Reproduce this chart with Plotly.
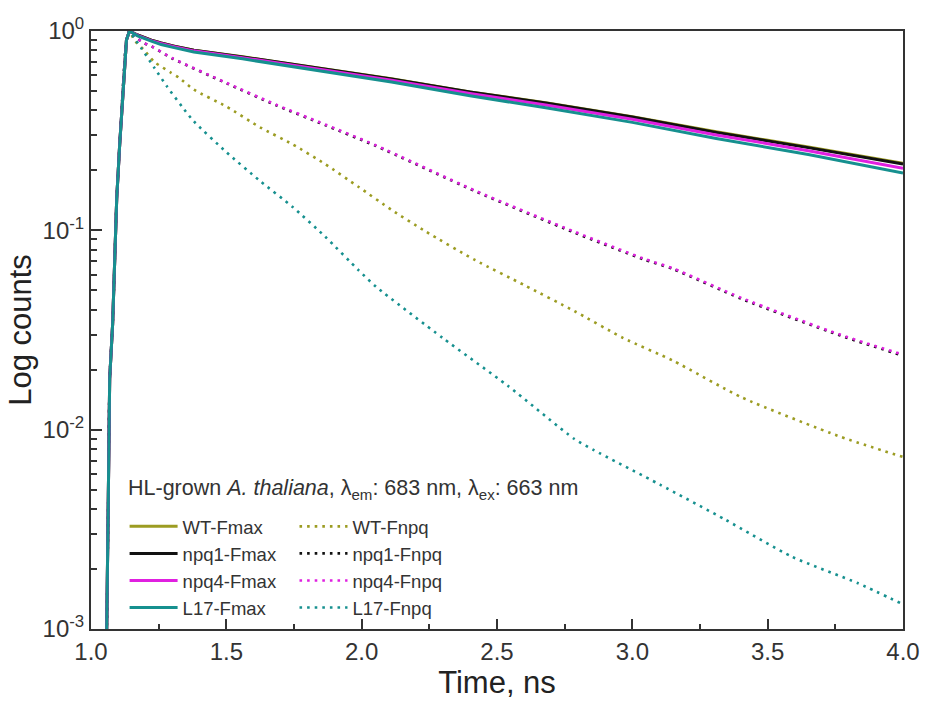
import plotly.graph_objects as go

# ---------------- data ----------------
# shared instrument-limited rise (normalised)
rise_t = [1.055, 1.058, 1.064, 1.069, 1.080, 1.095, 1.106, 1.120, 1.131, 1.142]
rise_v = [0.0008, 0.001, 0.0046, 0.018, 0.034, 0.144, 0.27, 0.57, 0.90, 1.0]

# Fmax decays (solid)
fmax_t = [1.172, 1.223, 1.259, 1.307, 1.38, 1.56, 1.75, 1.93, 2.11, 2.4, 2.68, 3.0, 3.31, 3.65, 4.0]
wt_fmax = [0.955, 0.90, 0.87, 0.84, 0.80, 0.743, 0.68, 0.625, 0.577, 0.495, 0.437, 0.372, 0.312, 0.262, 0.217]
npq1_fmax = [0.955, 0.90, 0.87, 0.84, 0.80, 0.741, 0.68, 0.625, 0.575, 0.495, 0.435, 0.370, 0.310, 0.260, 0.215]
npq4_fmax = [0.95, 0.895, 0.865, 0.835, 0.795, 0.735, 0.673, 0.617, 0.567, 0.486, 0.425, 0.361, 0.301, 0.251, 0.205]
l17_fmax = [0.945, 0.89, 0.855, 0.825, 0.785, 0.725, 0.663, 0.606, 0.555, 0.473, 0.412, 0.348, 0.289, 0.240, 0.194]

# Fnpq decays (dotted)
npq_fnpq_t = [1.16, 1.197, 1.223, 1.299, 1.5, 1.682, 1.865, 2.05, 2.42, 2.785, 3.04, 3.15, 3.405, 3.77, 4.0]
npq4_fnpq = [0.94, 0.87, 0.84, 0.733, 0.55, 0.428, 0.34, 0.268, 0.158, 0.0986, 0.0723, 0.0645, 0.0457, 0.0299, 0.0238]
npq1_fnpq = [0.94, 0.868, 0.838, 0.73, 0.547, 0.425, 0.337, 0.266, 0.157, 0.0975, 0.0716, 0.064, 0.0452, 0.0296, 0.0235]

wt_fnpq_t = [1.16, 1.197, 1.234, 1.296, 1.325, 1.38, 1.5, 1.624, 1.745, 1.865, 1.989, 2.109, 2.237, 2.42,
             2.602, 2.785, 2.967, 3.15, 3.405, 3.77, 4.0]
wt_fnpq = [0.90, 0.80, 0.70, 0.617, 0.583, 0.508, 0.418, 0.329, 0.270, 0.215, 0.165, 0.127, 0.0986, 0.0708,
           0.053, 0.0394, 0.0288, 0.0222, 0.0145, 0.0092, 0.0073]

l17_fnpq_t = [1.16, 1.186, 1.234, 1.281, 1.336, 1.38, 1.5, 1.624, 1.745, 1.865, 1.989, 2.055, 2.30, 2.54,
              2.785, 2.858, 3.102, 3.343, 3.588, 3.832, 4.0]
l17_fnpq = [0.92, 0.82, 0.654, 0.526, 0.418, 0.352, 0.247, 0.177, 0.131, 0.093, 0.063, 0.0519, 0.0288, 0.0166,
            0.0090, 0.0079, 0.00530, 0.00354, 0.00231, 0.0017, 0.00133]

labels_fmax = ["WT-Fmax", "npq1-Fmax", "npq4-Fmax", "L17-Fmax"]
labels_fnpq = ["WT-Fnpq", "npq1-Fnpq", "npq4-Fnpq", "L17-Fnpq"]
colors = ["#9c9c22", "#111111", "#e020e0", "#16908f"]

x_ticks = [1.0, 1.5, 2.0, 2.5, 3.0, 3.5, 4.0]
x_ticktext = ["1.0", "1.5", "2.0", "2.5", "3.0", "3.5", "4.0"]
y_ticks = [0.001, 0.01, 0.1, 1]
y_ticktext = ["10<sup>-3</sup>", "10<sup>-2</sup>", "10<sup>-1</sup>", "10<sup>0</sup>"]

# ---------------- figure ----------------
W, H = 932, 702
L, R, T, B = 91, 19, 31, 69
FONT = "Liberation Sans, Arial, sans-serif"
TXT = "#333333"

fig = go.Figure()

fmax_series = [wt_fmax, npq1_fmax, npq4_fmax, l17_fmax]
fnpq_series = [(wt_fnpq_t, wt_fnpq), (npq_fnpq_t, npq1_fnpq), (npq_fnpq_t, npq4_fnpq), (l17_fnpq_t, l17_fnpq)]

# dotted Fnpq first (under solid)
for name, (tt, vv), c in zip(labels_fnpq, fnpq_series, colors):
    fig.add_trace(go.Scatter(
        x=rise_t + tt, y=rise_v + vv, mode="lines", name=name,
        line=dict(color=c, width=2.6, dash="2.6px,5px", shape="spline", smoothing=0.6),
        legend="legend2"))

for name, vv, c in zip(labels_fmax, fmax_series, colors):
    fig.add_trace(go.Scatter(
        x=rise_t + fmax_t, y=rise_v + vv, mode="lines", name=name,
        line=dict(color=c, width=3),
        legend="legend"))

def px_x(p):
    return (p - L) / (W - L - R)

def px_y(p):
    return (H - B - p) / (H - T - B)

minor_y = [m * 10 ** e for e in (-3, -2, -1) for m in range(2, 10)]

legend_common = dict(
    bgcolor="rgba(0,0,0,0)", font=dict(family=FONT, size=18.5, color=TXT),
    xanchor="left", yanchor="top", tracegroupgap=0, itemwidth=48,
    traceorder="normal")

fig.update_layout(
    width=W, height=H,
    margin=dict(l=L, r=R, t=T, b=B),
    paper_bgcolor="white", plot_bgcolor="white",
    font=dict(family=FONT, color=TXT),
    xaxis=dict(
        range=[1.0, 4.0], tickvals=x_ticks, ticktext=x_ticktext,
        ticks="inside", ticklen=10, tickwidth=2, tickcolor="#333",
        minor=dict(ticks="inside", ticklen=5, tickwidth=2, tickcolor="#333", dtick=0.25, showgrid=False),
        showline=True, linecolor="#333", linewidth=2, mirror=True,
        showgrid=False, zeroline=False,
        tickfont=dict(family=FONT, size=24, color=TXT),
        title=dict(text="Time, ns", font=dict(family=FONT, size=31, color="#222"), standoff=4),
    ),
    yaxis=dict(
        type="log", range=[-3, 0], tickvals=y_ticks, ticktext=y_ticktext,
        ticks="inside", ticklen=11, tickwidth=2, tickcolor="#333",
        minor=dict(ticks="inside", ticklen=6, tickwidth=2, tickcolor="#333", tickvals=minor_y, showgrid=False),
        showline=True, linecolor="#333", linewidth=2, mirror=True,
        showgrid=False, zeroline=False,
        tickfont=dict(family=FONT, size=24, color=TXT),
        title=dict(text="Log counts", font=dict(family=FONT, size=31, color="#222"), standoff=2),
    ),
    legend=dict(x=px_x(125), y=px_y(511), **legend_common),
    legend2=dict(x=px_x(297), y=px_y(511), **legend_common),
    showlegend=True,
)

fig.add_annotation(
    xref="paper", yref="paper", x=px_x(126), y=px_y(493), xanchor="left", yanchor="middle",
    showarrow=False,
    text="HL-grown <i>A. thaliana</i>, λ<sub>em</sub>: 683 nm, λ<sub>ex</sub>: 663 nm",
    font=dict(family=FONT, size=21.5, color=TXT))

fig.write_html("out.html")
